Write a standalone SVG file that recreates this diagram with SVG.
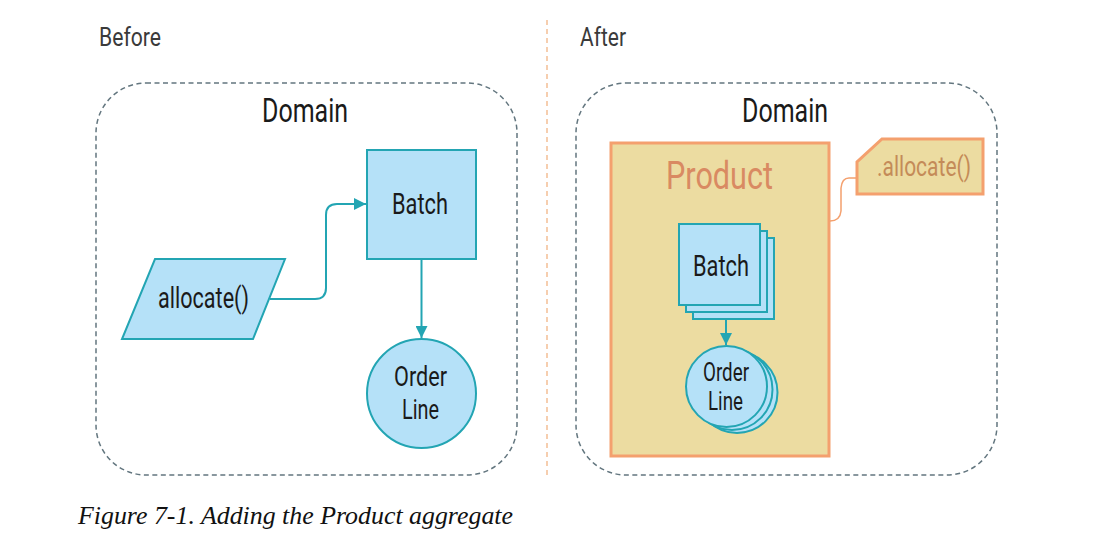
<svg xmlns="http://www.w3.org/2000/svg" width="1097" height="545" viewBox="0 0 1097 545">
<style>
.lbl{font-family:"Roboto","Liberation Sans",sans-serif;font-weight:400;fill:#1a1a1a;text-anchor:middle}
.title{font-family:"Roboto","Liberation Sans",sans-serif;font-weight:400;fill:#3a3a3a;font-size:25px}
.domain{fill:none;stroke:#63767f;stroke-width:1.5;stroke-dasharray:5 3.5}
.blue{fill:#b5e1f8;stroke:#23a5b3;stroke-width:2}
.conn{fill:none;stroke:#23a5b3;stroke-width:2}
.prod{fill:#ecdca1;stroke:#f4a06e;stroke-width:3}
.note{fill:none;stroke:#f4a06e;stroke-width:1.5}
</style>
<defs>
<marker id="arr" viewBox="0 0 10 10" refX="10" refY="5" markerWidth="6" markerHeight="6" orient="auto" markerUnits="strokeWidth">
<path d="M0,0 L10,5 L0,10 Z" fill="#23a5b3"/>
</marker>
</defs>
<rect width="1097" height="545" fill="#fff"/>
<g id="titles">
<text class="title" x="99" y="46" textLength="62" lengthAdjust="spacingAndGlyphs">Before</text>
<text class="title" x="580" y="46" textLength="46" lengthAdjust="spacingAndGlyphs">After</text>
</g>
<line id="divider" x1="547" y1="20" x2="547" y2="478" stroke="#f4bf95" stroke-width="1.5" stroke-dasharray="5 4"/>
<g id="domain-before">
<rect class="domain" x="96" y="83" width="421" height="392" rx="50"/>
<text class="lbl" x="305" y="122" font-size="33" textLength="86" lengthAdjust="spacingAndGlyphs">Domain</text>
</g>
<g id="allocate-before">
<polygon class="blue" points="155,259 285,259 253,339 122,339"/>
<text class="lbl" x="203.5" y="308" font-size="29" textLength="91" lengthAdjust="spacingAndGlyphs">allocate()</text>
</g>
<g id="batch-before">
<rect class="blue" x="367" y="150" width="109" height="109"/>
<text class="lbl" x="420" y="214" font-size="29" textLength="56" lengthAdjust="spacingAndGlyphs">Batch</text>
</g>
<g id="orderline-before">
<circle class="blue" cx="421.5" cy="393.5" r="54.5"/>
<text class="lbl" x="420.5" y="386" font-size="27" textLength="53" lengthAdjust="spacingAndGlyphs">Order</text>
<text class="lbl" x="420.5" y="419" font-size="27" textLength="37" lengthAdjust="spacingAndGlyphs">Line</text>
</g>
<g id="domain-after">
<rect class="domain" x="576" y="83" width="421" height="392" rx="50"/>
<text class="lbl" x="785" y="122" font-size="33" textLength="86" lengthAdjust="spacingAndGlyphs">Domain</text>
</g>
<g id="product">
<rect class="prod" x="611" y="143" width="218" height="313"/>
<text class="lbl" x="719.5" y="189" font-size="39" textLength="107" lengthAdjust="spacingAndGlyphs" style="fill:#d98a62">Product</text>
</g>
<g id="allocate-note">
<polygon class="prod" points="882,139 983,139 983,194 857,194 857,162"/>
<text class="lbl" x="924" y="176" font-size="28" textLength="94" lengthAdjust="spacingAndGlyphs" style="fill:#c48b58">.allocate()</text>
</g>
<g id="batch-after">
<rect class="blue" x="693" y="238" width="81" height="81"/>
<rect class="blue" x="686" y="231" width="81" height="81"/>
<rect class="blue" x="679" y="224" width="81" height="81"/>
<text class="lbl" x="721" y="276" font-size="29" textLength="56" lengthAdjust="spacingAndGlyphs">Batch</text>
</g>
<g id="orderline-after">
<circle class="blue" cx="737" cy="392.5" r="40.5"/>
<circle class="blue" cx="732" cy="389.5" r="40.5"/>
<circle class="blue" cx="726.5" cy="386.5" r="40.5"/>
<text class="lbl" x="726" y="381" font-size="25" textLength="46" lengthAdjust="spacingAndGlyphs">Order</text>
<text class="lbl" x="725.5" y="410" font-size="25" textLength="35" lengthAdjust="spacingAndGlyphs">Line</text>
</g>
<g id="connectors">
<path class="conn" d="M270,299 H315 Q326,299 326,288 V215 Q326,204 337,204 H366" marker-end="url(#arr)"/>
<path class="conn" d="M421.5,259 V338" marker-end="url(#arr)"/>
<path class="conn" d="M726,319 V345" marker-end="url(#arr)"/>
<path class="note" d="M857,178 H849 Q842,178 841,188 V211 Q840,221 830,221"/>
</g>
<text id="caption" x="78" y="524" font-family="'Liberation Serif',serif" font-style="italic" font-size="25" fill="#111" textLength="435" lengthAdjust="spacingAndGlyphs">Figure 7-1. Adding the Product aggregate</text>
</svg>
